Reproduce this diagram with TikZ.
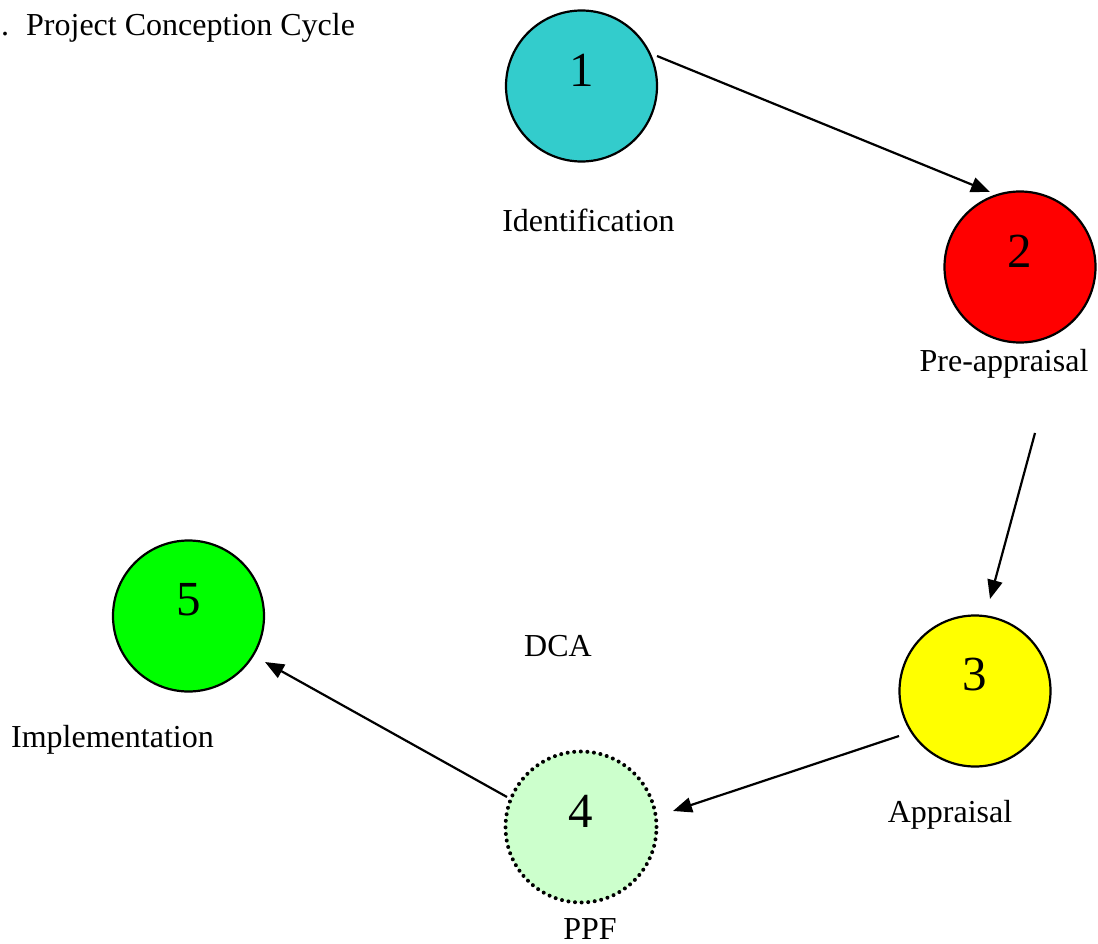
\documentclass[tikz,border=0pt]{standalone}
\usepackage{fontspec}
\setmainfont{Liberation Serif}
\usetikzlibrary{arrows.meta}
\definecolor{cteal}{RGB}{51,204,204}
\definecolor{cred}{RGB}{255,0,0}
\definecolor{cyellow}{RGB}{255,255,0}
\definecolor{cpale}{RGB}{204,255,204}
\definecolor{cgreen}{RGB}{0,255,0}
\tikzset{
  stage/.style={circle, draw=black, line width=2.2pt, minimum size=151pt, inner sep=0pt},
  num/.style={font=\fontsize{49}{56}\selectfont, inner sep=0pt},
  lbl/.style={font=\fontsize{32}{38}\selectfont, anchor=base, inner sep=0pt},
  arr/.style={line width=2.2pt, -{Triangle[length=19pt,width=15pt]}}
}
\begin{document}
\begin{tikzpicture}[x=1pt,y=-1pt]
\useasboundingbox (0,0) rectangle (1098,944);
% title
\node[lbl, anchor=base west] (title) at (1,36) {.\hspace{17pt}Project Conception Cycle};
% circles
\node[stage, fill=cteal]   (c1) at (581.5,86) {};
\node[stage, fill=cred]    (c2) at (1020,267) {};
\node[stage, fill=cyellow] (c3) at (975,691) {};
\node[stage, fill=cpale, line width=4pt, dash pattern=on 0pt off 6.6pt, line cap=round] (c4) at (581,827) {};
\node[stage, fill=cgreen]  (c5) at (188.5,616) {};
% numbers
\node[num] (n1) at ([yshift=16pt]c1.center) {1};
\node[num] (n2) at ([yshift=16pt]c2.center) {2};
\node[num] (n3) at ([yshift=16pt]c3.center) {3};
\node[num] (n4) at ([yshift=16pt]c4.center) {4};
\node[num] (n5) at ([yshift=16pt]c5.center) {5};
% labels
\node[lbl] (l1) at (588.5,232) {Identification};
\node[lbl] (l2) at (1004,371) {Pre-appraisal};
\node[lbl] (l3) at (950,822) {Appraisal};
\node[lbl] (l4) at (590,939) {PPF};
\node[lbl] (l5) at (112.5,747) {Implementation};
\node[lbl] (dca) at (558,656) {DCA};
% arrow end points
\coordinate (a1s) at (657,56);
\coordinate (a1e) at (990,192);
\coordinate (a2s) at (1035,433);
\coordinate (a2e) at (990,599);
\coordinate (a3s) at (899,736);
\coordinate (a3e) at (673,811);
\coordinate (a4s) at (507,797);
\coordinate (a4e) at (265,662);
% arrows
\draw[arr] (a1s) -- (a1e);
\draw[arr] (a2s) -- (a2e);
\draw[arr] (a3s) -- (a3e);
\draw[arr] (a4s) -- (a4e);
\end{tikzpicture}
\end{document}
